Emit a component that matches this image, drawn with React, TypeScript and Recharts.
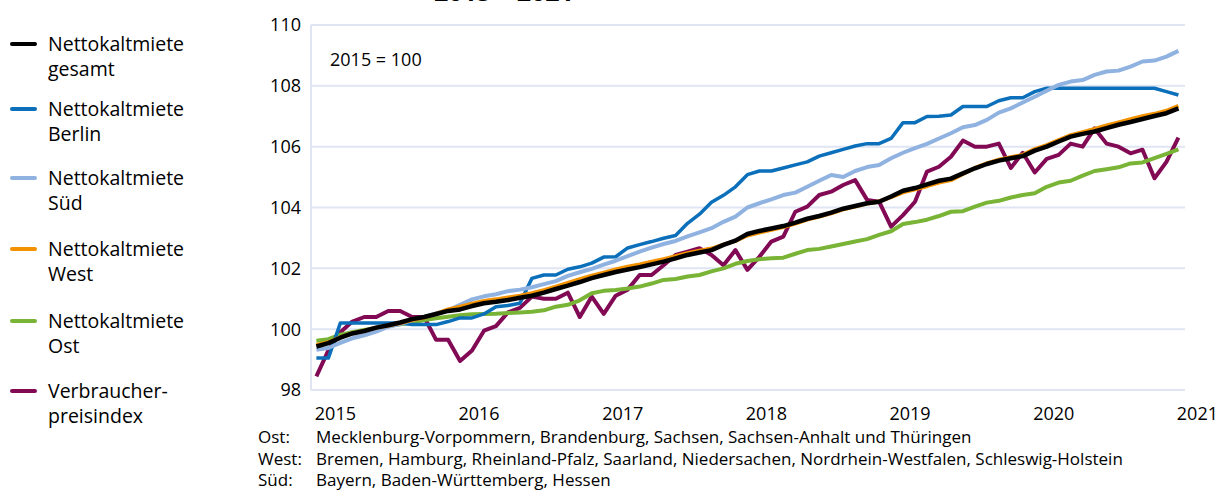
import React from "react";
import { LineChart, Line, XAxis, YAxis, CartesianGrid } from "recharts";

// monthly values, index 0 .. 72
const gesamt = [
  99.43, 99.54, 99.72, 99.86, 99.94, 100.05, 100.13, 100.22, 100.33, 100.4, 100.5, 100.6,
  100.65, 100.76, 100.85, 100.9, 100.96, 101.03, 101.1, 101.2, 101.32, 101.43, 101.55, 101.68,
  101.78, 101.88, 101.96, 102.04, 102.13, 102.22, 102.33, 102.44, 102.52, 102.6, 102.77, 102.91,
  103.13, 103.23, 103.31, 103.39, 103.5, 103.63, 103.72, 103.83, 103.96, 104.05, 104.14, 104.19,
  104.36, 104.55, 104.64, 104.76, 104.88, 104.95, 105.12, 105.29, 105.43, 105.54, 105.62, 105.69,
  105.87, 106.0, 106.17, 106.33, 106.42, 106.5, 106.61, 106.72, 106.81, 106.91, 107.01, 107.1,
  107.26,
];
const berlin = [
  99.05, 99.05, 100.2, 100.2, 100.2, 100.2, 100.2, 100.2, 100.15, 100.15, 100.15, 100.25,
  100.37, 100.37, 100.5, 100.74, 100.78, 100.85, 101.67, 101.78, 101.78, 101.97, 102.05, 102.17,
  102.37, 102.38, 102.67, 102.78, 102.88, 102.99, 103.08, 103.48, 103.78, 104.17, 104.4, 104.68,
  105.08, 105.2, 105.2, 105.3, 105.4, 105.5, 105.69, 105.8, 105.91, 106.02, 106.1, 106.1,
  106.27, 106.79, 106.79, 106.99, 107.0, 107.04, 107.32, 107.32, 107.32, 107.51, 107.61, 107.61,
  107.81, 107.92, 107.92, 107.92, 107.92, 107.92, 107.92, 107.92, 107.92, 107.92, 107.92, 107.81,
  107.7,
];
const sued = [
  99.32, 99.38, 99.55, 99.7, 99.8, 99.92, 100.08, 100.17, 100.3, 100.4, 100.52, 100.62,
  100.8, 100.98, 101.08, 101.15, 101.25, 101.3, 101.38, 101.48, 101.58, 101.75, 101.87, 101.98,
  102.12, 102.25, 102.4, 102.55, 102.68, 102.8, 102.9, 103.05, 103.18, 103.32, 103.53, 103.7,
  104.0, 104.14, 104.27, 104.41, 104.49, 104.68, 104.88, 105.07, 105.0, 105.2, 105.33, 105.4,
  105.62, 105.8, 105.95, 106.09, 106.27, 106.44, 106.64, 106.71, 106.88, 107.12, 107.26, 107.45,
  107.64, 107.84, 108.03, 108.14, 108.19, 108.36, 108.47, 108.5, 108.63, 108.8, 108.83, 108.96,
  109.15,
];
const west = [
  99.48, 99.57, 99.73, 99.86, 99.95, 100.05, 100.12, 100.2, 100.3, 100.38, 100.5, 100.65,
  100.74, 100.84, 100.93, 100.98, 101.04, 101.1, 101.18, 101.28, 101.4, 101.52, 101.64, 101.76,
  101.86, 101.96, 102.05, 102.13, 102.22, 102.3, 102.4, 102.5, 102.58, 102.65, 102.78, 102.9,
  103.08, 103.18, 103.27, 103.36, 103.47, 103.6, 103.7, 103.81, 103.94, 104.03, 104.13, 104.2,
  104.34, 104.5, 104.6, 104.7, 104.82, 104.9, 105.1, 105.3, 105.45, 105.57, 105.65, 105.73,
  105.92, 106.05, 106.22, 106.38, 106.48, 106.58, 106.7, 106.8, 106.9, 107.0, 107.08, 107.18,
  107.34,
];
const ost = [
  99.62, 99.67, 99.82, 99.9, 99.97, 100.04, 100.1, 100.16, 100.22, 100.3, 100.36, 100.41,
  100.46, 100.49, 100.5, 100.51, 100.53, 100.55, 100.57, 100.62, 100.74, 100.8, 100.95, 101.18,
  101.26, 101.29, 101.34, 101.4, 101.5, 101.62, 101.65, 101.73, 101.78, 101.9, 102.0, 102.15,
  102.24, 102.3, 102.33, 102.35, 102.48, 102.6, 102.64, 102.72, 102.8, 102.88, 102.96, 103.1,
  103.22, 103.46, 103.52, 103.6, 103.72, 103.86, 103.88, 104.03, 104.16, 104.22, 104.33, 104.41,
  104.47, 104.68, 104.82, 104.88, 105.05, 105.2, 105.26, 105.32, 105.45, 105.48, 105.62, 105.76,
  105.91,
];
const vpi = [
  98.45, 99.3, 99.9, 100.25, 100.4, 100.4, 100.6, 100.6, 100.4, 100.4, 99.65, 99.65,
  98.95, 99.3, 99.95, 100.1, 100.55, 100.7, 101.07, 101.0, 101.0, 101.2, 100.4, 101.07,
  100.5, 101.1, 101.3, 101.78, 101.78, 102.1, 102.44, 102.55, 102.66, 102.44, 102.1, 102.6,
  101.95, 102.38, 102.88, 103.04, 103.86, 104.03, 104.41, 104.52, 104.74, 104.9, 104.25, 104.19,
  103.37, 103.75, 104.19, 105.18, 105.34, 105.67, 106.2, 106.0, 106.0, 106.1, 105.3, 105.8,
  105.15, 105.6, 105.73, 106.1, 106.0, 106.6, 106.1, 106.0, 105.78, 105.9, 104.96, 105.5,
  106.3,
];

const yearLabels = ["2015", "2016", "2017", "2018", "2019", "2020", "2021"];
const yTicks = [98, 100, 102, 104, 106, 108, 110];

const series = [
  { key: "vpi", values: vpi, name: "Verbraucher-\npreisindex", color: "#820a55", width: 4 },
  { key: "ost", values: ost, name: "Nettokaltmiete\nOst", color: "#7ab436", width: 4 },
  { key: "berlin", values: berlin, name: "Nettokaltmiete\nBerlin", color: "#0b6fba", width: 3.5 },
  { key: "sued", values: sued, name: "Nettokaltmiete\nSüd", color: "#8fb2e0", width: 4 },
  { key: "west", values: west, name: "Nettokaltmiete\nWest", color: "#f39200", width: 4 },
  { key: "gesamt", values: gesamt, name: "Nettokaltmiete\ngesamt", color: "#000000", width: 4.5 },
];

const legendOrder = ["gesamt", "berlin", "sued", "west", "ost", "vpi"];
const legendTops = [31, 96, 165, 236, 308, 378];

const footnotes = [
  ["Ost:", "Mecklenburg-Vorpommern, Brandenburg, Sachsen, Sachsen-Anhalt und Thüringen"],
  ["West:", "Bremen, Hamburg, Rheinland-Pfalz, Saarland, Niedersachen, Nordrhein-Westfalen, Schleswig-Holstein"],
  ["Süd:", "Bayern, Baden-Württemberg, Hessen"],
];

const data = gesamt.map((_, i) => {
  const row: Record<string, number> = { i };
  series.forEach((s) => (row[s.key] = s.values[i]));
  return row;
});

const FONT = "'Open Sans', 'Noto Sans', sans-serif";
const GRID = "#dfe5f2";

const YearTick = ({ x, y, payload }: any) => (
  <text x={x + 19} y={y} dy={22} textAnchor="middle" fontSize={18} fontFamily={FONT} fill="#000">
    {yearLabels[Math.round(payload.value / 12)]}
  </text>
);

export default function App() {
  return (
    <div style={{ position: "absolute", left: 0, top: 0, width: 1217, height: 491, background: "#fff", overflow: "hidden", fontFamily: FONT }}>
      <div style={{ position: "absolute", left: 434, top: -24, fontSize: 25, fontWeight: 700, lineHeight: "30px" }}>2015 – 2021</div>

      <LineChart width={1217} height={491} data={data} margin={{ top: 25, right: 32, bottom: 61, left: 261 }}>
        <CartesianGrid vertical={false} stroke={GRID} strokeWidth={2} />
        <XAxis
          dataKey="i"
          type="number"
          domain={[-0.45, 72.55]}
          ticks={[0, 12, 24, 36, 48, 60, 72]}
          interval={0}
          tick={<YearTick />}
          tickLine={false}
          axisLine={{ stroke: GRID, strokeWidth: 2 }}
          height={40}
        />
        <YAxis
          domain={[98, 110]}
          ticks={yTicks}
          interval={0}
          width={50}
          tickLine={false}
          tickMargin={4}
          axisLine={{ stroke: GRID, strokeWidth: 2 }}
          tick={{ fontSize: 18, fill: "#000", fontFamily: FONT }}
        />
        {series.map((s) => (
          <Line
            key={s.key}
            dataKey={s.key}
            stroke={s.color}
            strokeWidth={s.width}
            dot={false}
            isAnimationActive={false}
            strokeLinejoin="round"
          />
        ))}
      </LineChart>

      <div style={{ position: "absolute", left: 330, top: 47, fontSize: 18 }}>2015 = 100</div>

      {legendOrder.map((k, idx) => {
        const s = series.find((x) => x.key === k)!;
        return (
          <div key={k} style={{ position: "absolute", left: 10, top: legendTops[idx] }}>
            <div style={{ position: "absolute", left: 0, top: 11, width: 27, height: 4, borderRadius: 2, background: s.color }} />
            <div style={{ position: "absolute", left: 38, top: 0, fontSize: 19.5, lineHeight: "25px", whiteSpace: "pre" }}>{s.name}</div>
          </div>
        );
      })}

      {footnotes.map(([a, b], idx) => (
        <div key={a} style={{ position: "absolute", left: 258, top: 426 + idx * 21.5, fontSize: 17, lineHeight: "22px", whiteSpace: "nowrap" }}>
          <span style={{ display: "inline-block", width: 58 }}>{a}</span>
          {b}
        </div>
      ))}
    </div>
  );
}
